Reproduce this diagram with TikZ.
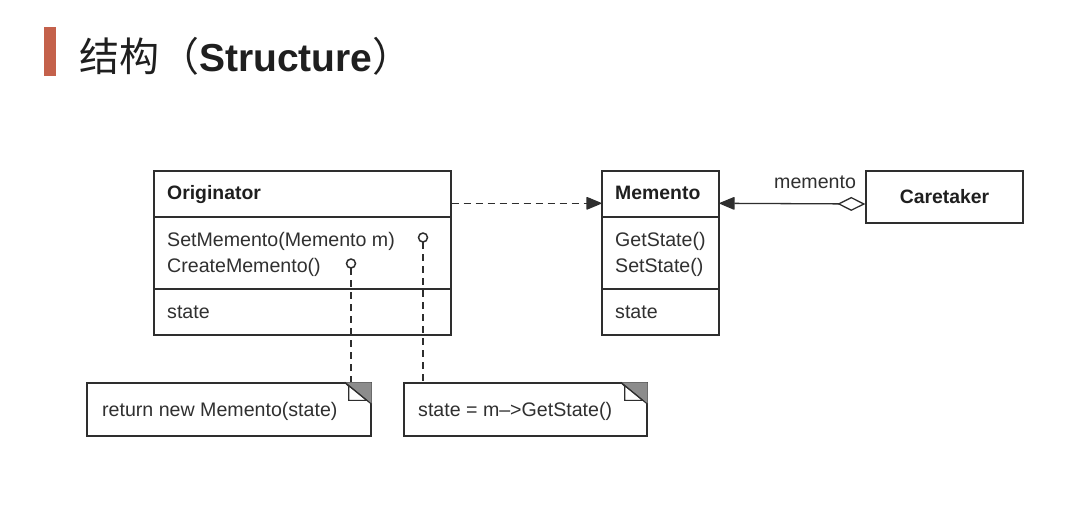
\documentclass[tikz,border=0pt]{standalone}
\usepackage{fontspec}
\setmainfont{Liberation Sans}
\newfontfamily\cjk{Noto Sans CJK SC}
\usetikzlibrary{arrows.meta,calc}
\definecolor{accent}{HTML}{C4614B}
\definecolor{ink}{HTML}{2E2E2E}
\definecolor{txt}{HTML}{303030}
\definecolor{fold}{HTML}{8C8C8C}

% folded corner of a note node
\newcommand\noteear[1]{%
  \fill[fold] ($(#1.north east)+(-27,0)$) -- (#1.north east) -- ($(#1.north east)+(0,22)$) -- cycle;
  \draw[ink, line width=1.1pt, fill=white] ($(#1.north east)+(-27,0)$) -- ($(#1.north east)+(-23,4)$)
     -- ($(#1.north east)+(-23,18)$) -- ($(#1.north east)+(-5,18)$) -- cycle;
  \draw[ink, line width=1.1pt] ($(#1.north east)+(-27,0)$) -- ($(#1.north east)+(0,22)$);
}

\begin{document}
\begin{tikzpicture}[x=1pt,y=-1pt,
  box/.style={draw=ink, line width=1.4pt, rectangle, inner sep=0pt},
  lbl/.style={anchor=base west, inner sep=0pt, text=txt, font=\fontsize{19.6}{22}\selectfont},
  hdr/.style={lbl, text=black!88, font=\fontsize{19.4}{22}\selectfont\bfseries},
  rule/.style={draw=ink, line width=1.4pt},
  pinhead/.style={draw=ink, line width=1.5pt, fill=white},
  link/.style={draw=ink, line width=1.3pt, dash pattern=on 7pt off 5pt},
  solidlink/.style={draw=ink, line width=1.3pt},
  headtip/.tip={Triangle[length=16pt,width=13pt,round]},
]
\useasboundingbox[fill=white] (0,0) rectangle (1089,531);

% heading
\fill[accent] (44,27) rectangle (56,76);
\node[anchor=base west, inner sep=0pt, text=black!88] (title) at (79,71)
  {{\cjk\fontsize{40}{44}\selectfont 结构（}{\fontsize{39}{44}\selectfont\bfseries Structure}{\cjk\fontsize{40}{44}\selectfont ）}};

% Originator class
\node[box, minimum width=297pt, minimum height=164pt] (orig) at (302.5,253) {};
\draw[rule] (orig.west |- 0,217) -- (orig.east |- 0,217);
\draw[rule] (orig.west |- 0,289) -- (orig.east |- 0,289);
\node[hdr] (origname) at (167,199) {Originator};
\node[lbl] (origop1) at (167,246) {SetMemento(Memento m)};
\node[lbl] (origop2) at (167,272) {CreateMemento()};
\node[lbl] (origattr) at (167,318) {state};

% Memento class
\node[box, minimum width=117pt, minimum height=164pt] (mem) at (660.5,253) {};
\draw[rule] (mem.west |- 0,217) -- (mem.east |- 0,217);
\draw[rule] (mem.west |- 0,289) -- (mem.east |- 0,289);
\node[hdr] (memname) at (615,199) {Memento};
\node[lbl] (memop1) at (615,246) {GetState()};
\node[lbl] (memop2) at (615,272) {SetState()};
\node[lbl] (memattr) at (615,318) {state};

% Caretaker class
\node[box, minimum width=157pt, minimum height=52pt, font=\fontsize{19.4}{22}\selectfont\bfseries, text=black!88] (care) at (944.5,197) {Caretaker};

% notes
\node[box, minimum width=284pt, minimum height=53pt] (note1) at (229,409.5) {};
\node[box, minimum width=243pt, minimum height=53pt] (note2) at (525.5,409.5) {};
\noteear{note1}
\noteear{note2}
\node[lbl] (note1text) at (102,416.5) {return new Memento(state)};
\node[lbl] (note2text) at (418,416.5) {state = m–>GetState()};

% note anchors on the operations
\coordinate (pinset) at (423,237.5);
\coordinate (pincreate) at (351,263.5);
\draw[link] ([yshift=-4.5pt]pinset) -- (pinset |- note2.north);
\draw[link] ([yshift=-4.5pt]pincreate) -- (pincreate |- note1.north);
\draw[pinhead] (pinset) circle (4.5);
\draw[pinhead] (pincreate) circle (4.5);

% relationships
\draw[link, -{headtip}] ([yshift=-33pt]orig.north east) -- ([yshift=-33pt]mem.north west);
\draw[solidlink, {Diamond[open,length=28pt,width=14pt]}-{headtip}] ([yshift=-7pt]care.west) -- ([yshift=-33pt]mem.north east);
\node[lbl] (rolename) at (774,188) {memento};
\end{tikzpicture}
\end{document}
